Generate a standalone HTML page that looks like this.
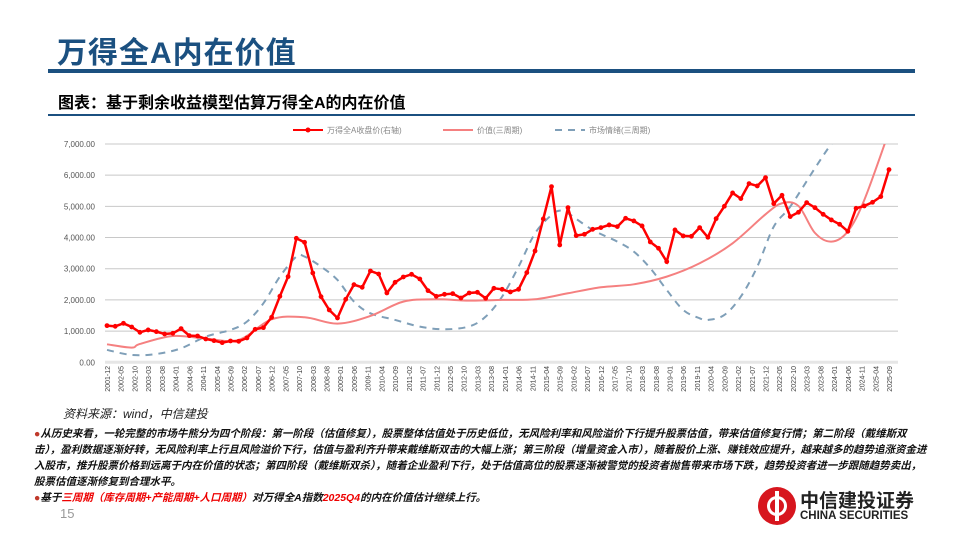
<!DOCTYPE html>
<html><head><meta charset="utf-8">
<style>
body{margin:0;width:960px;height:540px;overflow:hidden;background:#fff;font-family:"Liberation Sans","Noto Sans CJK SC",sans-serif;position:relative}
.abs{position:absolute}
#title{left:57px;top:28px;font-size:30px;font-weight:bold;color:#1b5080;letter-spacing:1px;white-space:nowrap}
#tline{left:48px;top:69px;width:867px;height:4px;background:#1b5080}
#sub{left:58px;top:89px;font-size:16px;font-weight:bold;color:#000;white-space:nowrap}
#sline{left:48px;top:114px;width:867px;height:2px;background:#1b5080}
#src{left:63px;top:405px;font-size:12px;font-style:italic;color:#222}
.bul{left:34px;width:895px;font-size:10.5px;font-weight:bold;font-style:italic;color:#111;line-height:16px}
.dot{color:#c0392b;font-style:normal}
#pg{left:60px;top:506px;font-size:13px;color:#999}
</style></head><body>
<div class="abs" id="title">万得全A内在价值</div>
<div class="abs" id="tline"></div>
<div class="abs" id="sub">图表：基于剩余收益模型估算万得全A的内在价值</div>
<div class="abs" id="sline"></div>
<svg class="abs" style="left:0;top:0" width="960" height="400" id="chart"></svg>
<div class="abs" id="src">资料来源：wind，中信建投</div>
<div class="abs bul" style="top:426px"><span class="dot">●</span>从历史来看，一轮完整的市场牛熊分为四个阶段：第一阶段（估值修复），股票整体估值处于历史低位，无风险利率和风险溢价下行提升股票估值，带来估值修复行情；第二阶段（戴维斯双击），盈利数据逐渐好转，无风险利率上行且风险溢价下行，估值与盈利齐升带来戴维斯双击的大幅上涨；第三阶段（增量资金入市），随着股价上涨、赚钱效应提升，越来越多的趋势追涨资金进入股市，推升股票价格到远离于内在价值的状态；第四阶段（戴维斯双杀），随着企业盈利下行，处于估值高位的股票逐渐被警觉的投资者抛售带来市场下跌，趋势投资者进一步跟随趋势卖出，股票估值逐渐修复到合理水平。</div>
<div class="abs bul" style="top:490px"><span class="dot">●</span>基于<span style="color:#e00">三周期（库存周期+产能周期+人口周期）</span>对万得全A指数<span style="color:#e00">2025Q4</span>的内在价值估计继续上行。</div>
<div class="abs" id="pg">15</div>
<div class="abs" style="left:758px;top:487px;width:38px;height:38px;border-radius:50%;background:#d7161e">
<div style="position:absolute;left:9px;top:9px;width:20px;height:20px;border-radius:50%;background:#fff"></div>
<div style="position:absolute;left:12px;top:12px;width:14px;height:14px;border-radius:50%;background:#d7161e"></div>
<div style="position:absolute;left:17px;top:4px;width:4px;height:30px;background:#fff"></div>
</div>
<div class="abs" style="left:800px;top:486px;font-size:19px;font-weight:bold;color:#222;white-space:nowrap">中信建投证券</div>
<div class="abs" style="left:800px;top:510px;font-size:11.5px;font-weight:bold;color:#222;white-space:nowrap">CHINA SECURITIES</div>
<script>
const closeVals=[1176,1154,1250,1133,962,1037,983,908,930,1080,855,844,748,695,630,684,673,780,1058,1111,1443,2116,2747,3976,3847,2864,2105,1678,1421,2020,2490,2405,2928,2832,2223,2565,2736,2821,2672,2298,2116,2180,2202,2063,2223,2244,2053,2373,2341,2256,2341,2876,3571,4597,5634,3763,4960,4062,4105,4265,4319,4404,4351,4618,4533,4372,3859,3656,3228,4244,4052,4041,4319,4009,4607,5003,5431,5249,5730,5655,5922,5088,5356,4672,4811,5121,4960,4746,4565,4426,4201,4939,5014,5131,5313,6179];
const valueQ=[0,3,4,8,12,16,20,24,28,32,36,40,44,48,52,56,60,64,68,72,76,80,82,84,86,88,90,92,95];
const valueV=[577,470,588,845,759,716,1379,1443,1240,1486,1946,2020,1978,2000,2020,2213,2405,2501,2747,3175,3816,4746,5100,5014,4150,3870,4200,5206,7397];
const sentQ=[0,3,6,9,12,15,17,19,21,23,24,26,28,30,32,35,38,41,44,46,48,50,52,54,55,56,59,62,64,66,68,70,72,73,75,77,79,81,83,86,88,91];
const sentV=[396,235,267,449,823,1037,1304,1892,2747,3389,3389,3068,2640,1946,1571,1358,1144,1058,1150,1464,2106,3068,4137,4725,4864,4778,4244,3870,3549,3015,2320,1678,1411,1358,1518,2106,3068,4351,4992,6222,7002,8000];
const yTicks=[0,1000,2000,3000,4000,5000,6000,7000];
const startYear=2001,startMonth=12,nQ=96;
const X0=107,X1=889,Y0=362.3,YT=144;
const xs=i=>X0+(X1-X0)*i/(nQ-1);
const ys=v=>Y0-(Y0-YT)*v/7000;
const svg=document.getElementById('chart');
const NS='http://www.w3.org/2000/svg';
function mk(t,a){const e=document.createElementNS(NS,t);for(const k in a)e.setAttribute(k,a[k]);svg.appendChild(e);return e;}
const defs=mk('defs',{});
const cp=document.createElementNS(NS,'clipPath');cp.setAttribute('id','pc');
const cr=document.createElementNS(NS,'rect');cr.setAttribute('x',100);cr.setAttribute('y',YT);cr.setAttribute('width',800);cr.setAttribute('height',Y0-YT+1);
cp.appendChild(cr);defs.appendChild(cp);
yTicks.forEach(v=>{
 const l=mk('line',{x1:105,x2:898,y1:ys(v),y2:ys(v),stroke:v===0?'#e6e6e6':'#c8c8c8','stroke-width':v===0?3:1});
 
 
 const t=mk('text',{x:95,y:ys(v)+3,'text-anchor':'end','font-size':8,fill:'#555'});
 t.textContent=v.toLocaleString('en-US',{minimumFractionDigits:2});
 
 
});
for(let m=0;m<=285;m+=5){
 const tot=startYear*12+startMonth-1+m;const yr=Math.floor(tot/12),mo=tot%12+1;
 const x=X0+(X1-X0)*m/285;
 const t=mk('text',{x:0,y:0,transform:`translate(${x+3},366) rotate(-90)`,'text-anchor':'end','font-size':7,fill:'#444'});
 t.textContent=yr+'-'+String(mo).padStart(2,'0');
 
 
}
function smooth(pts){let d=`M${pts[0][0]},${pts[0][1]}`;for(let i=0;i<pts.length-1;i++){const p0=pts[i-1]||pts[i],p1=pts[i],p2=pts[i+1],p3=pts[i+2]||p2;d+=` C${p1[0]+(p2[0]-p0[0])/6},${p1[1]+(p2[1]-p0[1])/6} ${p2[0]-(p3[0]-p1[0])/6},${p2[1]-(p3[1]-p1[1])/6} ${p2[0]},${p2[1]}`;}return d;}
const sp=mk('path',{d:smooth(sentQ.map((q,i)=>[xs(q),ys(sentV[i])])),fill:'none',stroke:'#7f9fb8','stroke-width':2,'stroke-dasharray':'7,6','clip-path':'url(#pc)'});


const vp=mk('path',{d:smooth(valueQ.map((q,i)=>[xs(q),ys(valueV[i])])),fill:'none',stroke:'#f58080','stroke-width':2,'clip-path':'url(#pc)'});


const cl=mk('polyline',{points:closeVals.map((v,i)=>xs(i)+','+ys(v)).join(' '),fill:'none',stroke:'#f00','stroke-width':2.5});


closeVals.forEach((v,i)=>{const c=mk('circle',{cx:xs(i),cy:ys(v),r:2.4,fill:'#f00'});
 
 });
// legend
const lg=[[293,'万得全A收盘价(右轴)','#f00',0,1],[443,'价值(三周期)','#f58080',0,0],[555,'市场情绪(三周期)','#7f9fb8',1,0]];
lg.forEach(([x,txt,col,dash,dot])=>{
 const l=mk('line',{x1:x,x2:x+30,y1:130,y2:130,stroke:col,'stroke-width':2,'stroke-dasharray':dash?'7,6':'none'});
 
 
 if(dot){const c=mk('circle',{cx:x+15,cy:130,r:2.5,fill:col});}
 const t=mk('text',{x:x+34,y:133,'font-size':8,fill:'#888'});t.textContent=txt;
 
 
});
</script>
</body></html>
